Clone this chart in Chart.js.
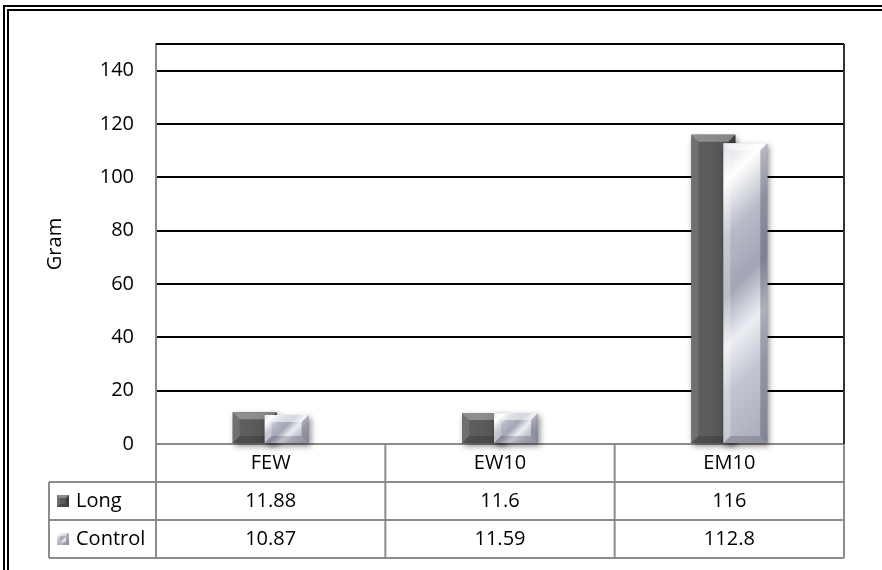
<!DOCTYPE html>
<html>
<head>
<meta charset="utf-8">
<script src="https://cdn.jsdelivr.net/npm/chart.js@4/dist/chart.umd.min.js"></script>
<style>
  html, body { margin: 0; padding: 0; background: #fff; overflow: hidden; }
  #wrap { position: relative; width: 882px; height: 570px; }
  #frame { position: absolute; left: 3px; top: 5px; width: 900px; height: 600px;
           border-left: 6px double #000; border-top: 6px double #000; }
  #chart { position: absolute; left: 0; top: 0; }
</style>
</head>
<body>
<div id="wrap">
  <div id="frame"></div>
  <canvas id="chart" width="882" height="570"></canvas>
</div>
<script>
const categories = ['FEW', 'EW10', 'EM10'];
const seriesNames = ['Long', 'Control'];
const longValues = [11.88, 11.6, 116];
const controlValues = [10.87, 11.59, 112.8];
const yTicks = [0, 20, 40, 60, 80, 100, 120, 140];

const FONT = '"Open Sans", "Liberation Sans", sans-serif';

// bevelled bar styles
const styles = [
  {
    face: (ctx, l, t, r, b) => {
      const g = ctx.createLinearGradient(l, 0, r, 0);
      g.addColorStop(0, '#616161');
      g.addColorStop(0.5, '#5a5a5a');
      g.addColorStop(1, '#4e4e4e');
      return g;
    },
    top: 'rgba(255,255,255,0.30)',
    left: 'rgba(255,255,255,0.10)',
    right: 'rgba(0,0,0,0.22)',
    bottom: 'rgba(0,0,0,0.18)'
  },
  {
    face: (ctx, l, t, r, b) => {
      const L = ((r - l) + (b - t)) / 2;
      const g = ctx.createLinearGradient(l, t, l + L, t + L);
      g.addColorStop(0, '#d4d6de');
      g.addColorStop(0.12, '#ffffff');
      g.addColorStop(0.28, '#b7bbc8');
      g.addColorStop(0.45, '#a2a6b5');
      g.addColorStop(0.6, '#eceef3');
      g.addColorStop(0.74, '#c3c6d1');
      g.addColorStop(1, '#a6aab8');
      return g;
    },
    top: 'rgba(255,255,255,0.55)',
    left: 'rgba(255,255,255,0.25)',
    right: 'rgba(60,60,80,0.35)',
    bottom: 'rgba(60,60,80,0.25)'
  }
];

function bevelRect(ctx, l, t, r, b, size, style, shadow) {
  const w = r - l, h = b - t;
  const d = Math.min(size, w / 2, h / 2);
  ctx.save();
  if (shadow) {
    ctx.shadowColor = 'rgba(0,0,0,0.45)';
    ctx.shadowBlur = 6;
    ctx.shadowOffsetX = 2;
    ctx.shadowOffsetY = 3;
  }
  ctx.fillStyle = style.face(ctx, l, t, r, b);
  ctx.fillRect(l, t, w, h);
  ctx.restore();
  const poly = (pts, color) => {
    ctx.beginPath();
    ctx.moveTo(pts[0][0], pts[0][1]);
    pts.slice(1).forEach(p => ctx.lineTo(p[0], p[1]));
    ctx.closePath();
    ctx.fillStyle = color;
    ctx.fill();
  };
  poly([[l, t], [r, t], [r - d, t + d], [l + d, t + d]], style.top);
  poly([[l, t], [l + d, t + d], [l + d, b - d], [l, b]], style.left);
  poly([[r, t], [r, b], [r - d, b - d], [r - d, t + d]], style.right);
  poly([[l, b], [l + d, b - d], [r - d, b - d], [r, b]], style.bottom);
}

// repaint bars with bevel, Long first so Control sits in front
const bevelBars = {
  id: 'bevelBars',
  afterDatasetsDraw(chart) {
    const ctx = chart.ctx;
    chart.data.datasets.forEach((ds, i) => {
      chart.getDatasetMeta(i).data.forEach(bar => {
        const { x, y, base, width } = bar.getProps(['x', 'y', 'base', 'width'], true);
        bevelRect(ctx, x - width / 2, y, x + width / 2, base, 7, styles[i], true);
      });
    });
  }
};

// plot frame + data table under the axis
const dataTable = {
  id: 'dataTable',
  afterDraw(chart) {
    const { ctx, chartArea: a, scales: { x } } = chart;
    const rowH = 38;
    const r0 = a.bottom, r1 = r0 + rowH, r2 = r1 + rowH, r3 = r2 + rowH;
    const keyLeft = 49;
    const step = x.getPixelForValue(1) - x.getPixelForValue(0);

    ctx.save();
    ctx.lineWidth = 2;
    ctx.strokeStyle = '#000';
    ctx.beginPath();
    ctx.moveTo(a.left, a.top); ctx.lineTo(a.right, a.top);
    ctx.stroke();
    ctx.strokeStyle = '#333';
    ctx.beginPath();
    ctx.moveTo(a.right, a.top); ctx.lineTo(a.right, a.bottom);
    ctx.stroke();

    ctx.strokeStyle = '#8c8c8c';
    ctx.beginPath();
    [r1, r2, r3].forEach(yy => { ctx.moveTo(keyLeft, yy); ctx.lineTo(a.right, yy); });
    ctx.moveTo(keyLeft, r1); ctx.lineTo(keyLeft, r3);
    ctx.moveTo(a.left, r0); ctx.lineTo(a.left, r3);
    categories.forEach((c, i) => {
      const edge = x.getPixelForValue(i) + step / 2;
      ctx.moveTo(edge, r0); ctx.lineTo(edge, r3);
    });
    ctx.stroke();

    ctx.fillStyle = '#000';
    ctx.font = '20px ' + FONT;
    ctx.textBaseline = 'middle';
    ctx.textAlign = 'center';
    const rows = [longValues, controlValues];
    categories.forEach((c, i) => {
      const cx = x.getPixelForValue(i);
      ctx.fillText(c, cx, r0 + rowH / 2);
      rows.forEach((vals, j) => ctx.fillText(String(vals[i]), cx, r1 + rowH * j + rowH / 2));
    });
    ctx.textAlign = 'left';
    seriesNames.forEach((name, j) => {
      const cy = r1 + rowH * j + rowH / 2;
      bevelRect(ctx, 57, cy - 6, 69, cy + 6, 3, styles[j], false);
      ctx.fillStyle = '#000';
      ctx.fillText(name, 76, cy);
    });
    ctx.restore();
  }
};

new Chart(document.getElementById('chart'), {
  type: 'bar',
  data: {
    labels: categories,
    datasets: [
      { label: seriesNames[0], data: longValues, backgroundColor: '#5a5a5a' },
      { label: seriesNames[1], data: controlValues, backgroundColor: '#c4c7d2' }
    ]
  },
  options: {
    responsive: false,
    animation: false,
    events: [],
    barPercentage: 1.375,
    categoryPercentage: 0.2787,
    layout: { padding: { left: 0, top: 44, right: 38, bottom: 126 } },
    plugins: {
      legend: { display: false },
      tooltip: { enabled: false }
    },
    scales: {
      x: { display: false },
      y: {
        min: 0,
        max: 150,
        afterBuildTicks: s => { s.ticks = yTicks.map(v => ({ value: v })); },
        afterFit: s => {
          s.width = 156;
          s.paddingTop = 0;
          s.paddingBottom = 0;
        },
        border: { display: true, color: '#8c8c8c', width: 2 },
        grid: {
          drawTicks: false,
          lineWidth: 2,
          color: c => (c.tick && c.tick.value === 0 ? '#8c8c8c' : '#000')
        },
        ticks: { padding: 22, color: '#000', font: { family: FONT, size: 20 } },
        title: {
          display: true,
          text: 'Gram',
          color: '#000',
          font: { family: FONT, size: 20 },
          padding: { top: 43 }
        }
      }
    }
  },
  plugins: [bevelBars, dataTable]
});
</script>
</body>
</html>
